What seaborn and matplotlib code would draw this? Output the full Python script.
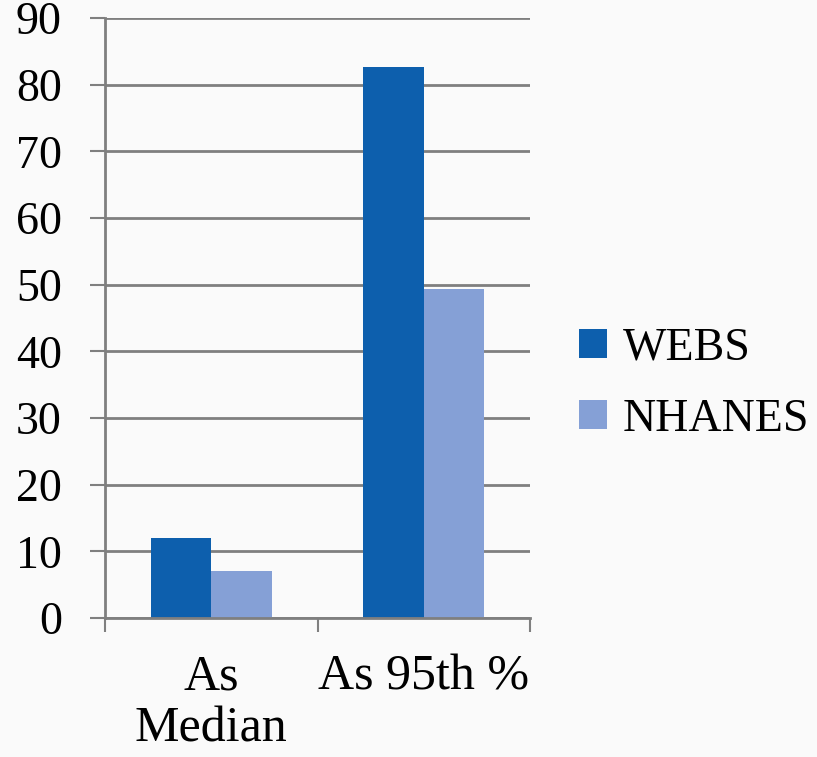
import matplotlib
matplotlib.use("Agg")
import matplotlib.pyplot as plt
import seaborn as sns
import pandas as pd
from matplotlib.patches import Patch

categories = ["As\nMedian", "As 95th %"]
series = ["WEBS", "NHANES"]
webs = [12.0, 82.6]
nhanes = [7.1, 49.4]
yticks = [0, 10, 20, 30, 40, 50, 60, 70, 80, 90]
colors = ["#0d5fad", "#85a0d6"]

df = pd.DataFrame({
    "cat": categories * 2,
    "series": [series[0]] * 2 + [series[1]] * 2,
    "value": webs + nhanes,
})

sns.set_theme(style="white")
plt.rcParams["font.family"] = ["Liberation Serif", "DejaVu Serif"]
plt.rcParams["text.color"] = "black"
plt.rcParams["xtick.labelcolor"] = "black"
plt.rcParams["ytick.labelcolor"] = "black"

fig = plt.figure(figsize=(8.17, 7.57), dpi=100)
bg = "#fafafa"
fig.patch.set_facecolor(bg)
ax = fig.add_axes([105/817, 1-618/757, (530-105)/817, (618-18)/757])
ax.set_facecolor(bg)

sns.barplot(data=df, x="cat", y="value", hue="series", palette=colors,
            width=0.57, gap=0, saturation=1, ax=ax, legend=False)

ax.set_ylim(0, 90)
ax.set_xlim(-0.5, 1.5)
ax.set_yticks(yticks)
ax.set_yticklabels([str(t) for t in yticks], fontsize=33, color="black")
ax.yaxis.grid(True, color="#7f7f7f", linewidth=2)
ax.set_axisbelow(True)
for b in ax.patches:
    b.set_edgecolor("none")

ax.set_xticks([0, 1])
ax.set_xticklabels(categories, fontsize=36, linespacing=1.16, color="black")
ax.tick_params(axis="x", length=0, pad=26)
ax.set_xticks([-0.5, 0.5, 1.5], minor=True)
ax.tick_params(axis="x", which="minor", length=10, width=1.5, color="#7f7f7f", direction="out")
ax.tick_params(axis="y", length=11, width=1.5, color="#7f7f7f", direction="out", pad=20)
ax.yaxis.set_tick_params(left=True)
ax.xaxis.set_tick_params(which="minor", bottom=True)

for s in ["top", "right"]:
    ax.spines[s].set_visible(False)
ax.spines["left"].set_color("#7f7f7f")
ax.spines["left"].set_linewidth(2)
ax.spines["bottom"].set_color("#7f7f7f")
ax.spines["bottom"].set_linewidth(2)
ax.set_xlabel("")
ax.set_ylabel("")

handles = [Patch(facecolor=c, edgecolor="none", label=s) for s, c in zip(series, colors)]
fig.legend(handles=handles, loc="center left", bbox_to_anchor=(0.709, 0.493),
           frameon=False, fontsize=33, handlelength=0.6, handleheight=0.6,
           handletextpad=0.35, labelspacing=0.62, borderpad=0, borderaxespad=0,
           labelcolor="black")

fig.savefig("out.png", dpi=100, facecolor=bg)
